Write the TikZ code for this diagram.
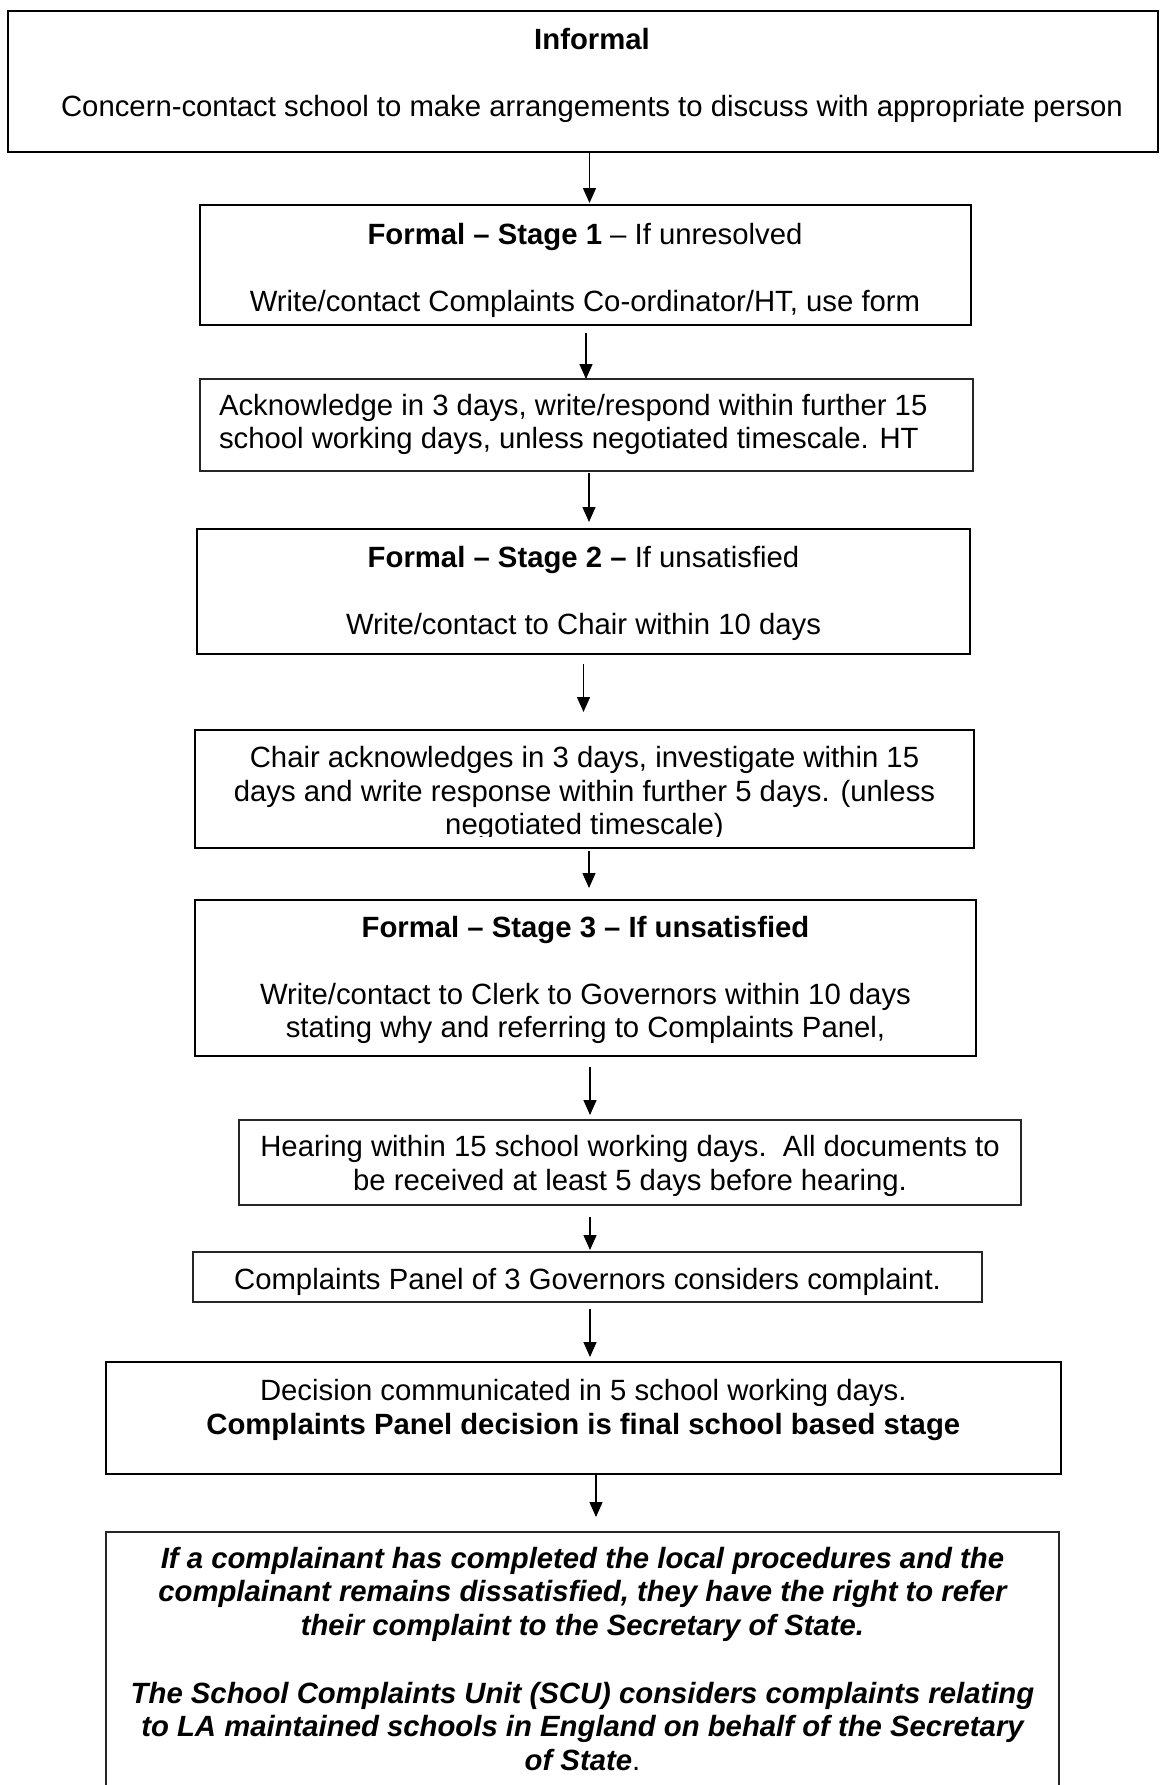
\documentclass[tikz,border=0pt]{standalone}
\usepackage{fontspec}
\setmainfont{Liberation Sans}
\usetikzlibrary{arrows.meta}
\begin{document}
\begin{tikzpicture}[x=1pt,y=-1pt,
  boxthick/.style={draw=black,line width=1.9pt,fill=white,inner sep=0pt,outer sep=0pt,anchor=north west},
  boxthin/.style={draw=black!85,line width=1.1pt,fill=white,inner sep=0pt,outer sep=0pt,anchor=north west},
  txt/.style={inner sep=0pt,outer sep=0pt,anchor=base,align=center,font=\fontsize{29.3}{33.5}\selectfont},
  arr/.style={line width=1.4pt,-{Triangle[width=13pt,length=15pt]}}]
\useasboundingbox (0,0) rectangle (1160,1785);
\clip (0,0) rectangle (1160,1785);
\fill[white] (0,0) rectangle (1160,1785);

% boxes
\node[boxthick,minimum width=1150pt,minimum height=141pt] (b1) at (8,11) {};
\node[boxthick,minimum width=771pt,minimum height=120pt] (b2) at (200,205) {};
\node[boxthin,minimum width=773pt,minimum height=92pt] (b3) at (200,379) {};
\node[boxthick,minimum width=773pt,minimum height=125pt] (b4) at (197,529) {};
\node[boxthick,minimum width=779pt,minimum height=118pt] (b5) at (195,730) {};
\node[boxthick,minimum width=781pt,minimum height=156pt] (b6) at (195,900) {};
\node[boxthin,minimum width=782pt,minimum height=85pt] (b7) at (239,1120) {};
\node[boxthin,minimum width=789pt,minimum height=50pt] (b8) at (193,1252) {};
\node[boxthick,minimum width=955pt,minimum height=112pt] (b9) at (106,1362) {};
\node[boxthin,minimum width=953pt,minimum height=300pt] (b10) at (106,1532) {};

% texts (multi-line nodes: base = last line's baseline)
\node[txt] (t1a) at (592,50) {\textbf{Informal}};
\node[txt] (t1b) at (592,116) {Concern-contact school to make arrangements to discuss with appropriate person};
\node[txt] (t2a) at (585,244) {\textbf{Formal – Stage 1} – If unresolved};
\node[txt] (t2b) at (585,311) {Write/contact Complaints Co-ordinator/HT, use form};
\node[txt,anchor=base west,align=left] (t3) at (219,448.5) {Acknowledge in 3 days, write/respond within further 15\\school working days, unless negotiated timescale. HT};
\node[txt] (t4a) at (583.5,567) {\textbf{Formal – Stage 2 –} If unsatisfied};
\node[txt] (t4b) at (583.5,634) {Write/contact to Chair within 10 days};
\begin{scope}
\clip (b5.north west) rectangle ([yshift=12pt]b5.south east);
\node[txt] (t5) at (584.5,834.5) {Chair acknowledges in 3 days, investigate within 15\\days and write response within further 5 days. (unless\\negotiated timescale)};
\end{scope}
\node[txt] (t6a) at (585.5,937) {\textbf{Formal – Stage 3 – If unsatisfied}};
\node[txt] (t6b) at (585.5,1037.5) {Write/contact to Clerk to Governors within 10 days\\stating why and referring to Complaints Panel,};
\node[txt] (t7) at (630,1190) {Hearing within 15 school working days.\ \ All documents to\\be received at least 5 days before hearing.};
\node[txt] (t8) at (587.5,1289) {Complaints Panel of 3 Governors considers complaint.};
\node[txt] (t9) at (583.3,1434) {Decision communicated in 5 school working days.\\\textbf{Complaints Panel decision is final school based stage}};
\node[txt,font=\fontsize{29.3}{33.5}\selectfont\bfseries\itshape] (t10a) at (582.5,1635) {If a complainant has completed the local procedures and the\\complainant remains dissatisfied, they have the right to refer\\their complaint to the Secretary of State.};
\node[txt,font=\fontsize{29.3}{33.5}\selectfont\bfseries\itshape] (t10b) at (582.5,1770) {The School Complaints Unit (SCU) considers complaints relating\\to LA maintained schools in England on behalf of the Secretary\\of State{\normalfont .}};

% arrow columns
\coordinate (x1) at (589.5,0);
\coordinate (x2) at (586,0);
\coordinate (x3) at (589,0);
\coordinate (x4) at (583.5,0);
\coordinate (x5) at (589,0);
\coordinate (x6) at (590,0);
\coordinate (x7) at (590,0);
\coordinate (x8) at (590,0);
\coordinate (x9) at (596,0);

\draw[arr,shorten >=2pt] (b1.south -| x1) -- (b2.north -| x1);
\draw[arr,shorten <=8pt] (b2.south -| x2) -- (b3.north -| x2);
\draw[arr,shorten <=2pt,shorten >=7pt] (b3.south -| x3) -- (b4.north -| x3);
\draw[arr,shorten <=10pt,shorten >=18pt] (b4.south -| x4) -- (b5.north -| x4);
\draw[arr,shorten <=3pt,shorten >=12pt] (b5.south -| x5) -- (b6.north -| x5);
\draw[arr,shorten <=11pt,shorten >=5pt] (b6.south -| x6) -- (b7.north -| x6);
\draw[arr,shorten <=12pt,shorten >=2pt] (b7.south -| x7) -- (b8.north -| x7);
\draw[arr,shorten <=7pt,shorten >=5pt] (b8.south -| x8) -- (b9.north -| x8);
\draw[arr,shorten >=15pt] (b9.south -| x9) -- (b10.north -| x9);
\end{tikzpicture}
\end{document}
